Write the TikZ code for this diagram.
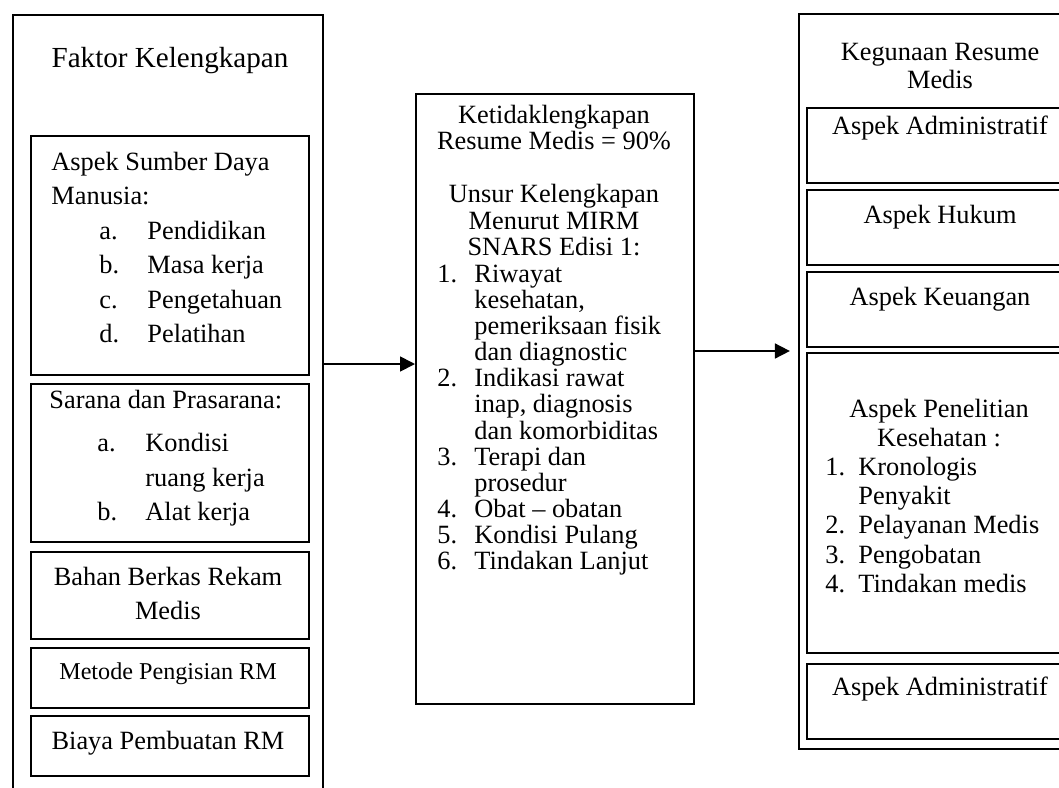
\documentclass[tikz,border=0pt]{standalone}
\usepackage{fontspec}
\setmainfont{Liberation Serif}
\usepackage{tikz}
\usetikzlibrary{arrows.meta}

\newcommand{\butir}[2]{\hspace*{0.768cm}\makebox[0.768cm][l]{#1}#2}
\newcommand{\nomor}[3][0.592cm]{\makebox[#1][l]{#2}#3}

\begin{document}
\begin{tikzpicture}[
    kotak/.style={draw, line width=0.7pt, rectangle, inner sep=0pt, anchor=north west},
    teks/.style={inner sep=0pt, font=\fontsize{12}{15.75}\selectfont},
    panah/.style={-{Triangle[length=0.24cm,width=0.24cm]}, line width=0.8pt}]
    \path[use as bounding box] (0,0) rectangle (16.944,-12.592);
    \clip (0,0) rectangle (16.944,-12.592);

    % faktor kelengkapan
    \node[kotak, minimum width=4.96cm, minimum height=12.9cm] 
         (faktor) at (0.192,-0.224) {};
    \node[kotak, minimum width=4.448cm, minimum height=3.824cm] 
         (sdm) at (0.48,-2.16) {};
    \node[kotak, minimum width=4.448cm, minimum height=2.528cm] 
         (sarana) at (0.48,-6.128) {};
    \node[kotak, minimum width=4.448cm, minimum height=1.392cm] 
         (bahan) at (0.48,-8.816) {};
    \node[kotak, minimum width=4.448cm, minimum height=0.96cm] 
         (metode) at (0.48,-10.352) {};
    \node[kotak, minimum width=4.448cm, minimum height=0.96cm] 
         (biaya) at (0.48,-11.44) {};

    \node[teks, font=\fontsize{13.25}{16}\selectfont, anchor=base] 
         (faktorjudul) at (2.72,-1.072) {Faktor Kelengkapan};
    \node[teks, anchor=base west] (sdmteks) at (0.816,-2.72) 
         {\begin{tabular}[t]{@{}l@{}}
          Aspek Sumber Daya\\ Manusia:\\
          \butir{a.}{Pendidikan}\\ \butir{b.}{Masa kerja}\\
          \butir{c.}{Pengetahuan}\\ \butir{d.}{Pelatihan}
          \end{tabular}};
    \node[teks, anchor=base west] (saranateks) at (0.784,-6.528) 
         {\begin{tabular}[t]{@{}l@{}}
          Sarana dan Prasarana:\\[4.1pt]
          \butir{a.}{Kondisi}\\ \butir{}{ruang kerja}\\ \butir{b.}{Alat kerja}
          \end{tabular}};
    \node[teks, anchor=base] (bahanteks) at (2.688,-9.36) 
         {\begin{tabular}[t]{@{}c@{}}Bahan Berkas Rekam\\ Medis\end{tabular}};
    \node[teks, font=\fontsize{11}{13}\selectfont, anchor=base] 
         (metodeteks) at (2.688,-10.864) {Metode Pengisian RM};
    \node[teks, anchor=base] (biayateks) at (2.688,-11.984) {Biaya Pembuatan RM};

    % ketidaklengkapan
    \node[kotak, minimum width=4.448cm, minimum height=9.76cm] 
         (hasil) at (6.64,-1.488) {};
    \node[teks, font=\fontsize{12}{12.1}\selectfont, anchor=base] 
         (hasiljudul) at (8.864,-1.968) 
         {\begin{tabular}[t]{@{}c@{}}
          Ketidaklengkapan\\ Resume Medis = 90\%\\ \\
          Unsur Kelengkapan\\ Menurut MIRM\\ SNARS Edisi 1:
          \end{tabular}};
    \node[teks, font=\fontsize{12}{11.9}\selectfont, anchor=base west] 
         (unsur) at (6.992,-4.512) 
         {\begin{tabular}[t]{@{}l@{}}
          \nomor{1.}{Riwayat}\\ \nomor{}{kesehatan,}\\
          \nomor{}{pemeriksaan fisik}\\ \nomor{}{dan diagnostic}\\
          \nomor{2.}{Indikasi rawat}\\ \nomor{}{inap, diagnosis}\\
          \nomor{}{dan komorbiditas}\\
          \nomor{3.}{Terapi dan}\\ \nomor{}{prosedur}\\
          \nomor{4.}{Obat -- obatan}\\ \nomor{5.}{Kondisi Pulang}\\
          \nomor{6.}{Tindakan Lanjut}
          \end{tabular}};

    % kegunaan resume medis
    \node[kotak, minimum width=4.96cm, minimum height=11.76cm] 
         (kegunaan) at (12.768,-0.208) {};
    \node[kotak, minimum width=4.448cm, minimum height=1.2cm] 
         (adm) at (12.896,-1.712) {};
    \node[kotak, minimum width=4.448cm, minimum height=1.2cm] 
         (hukum) at (12.896,-3.024) {};
    \node[kotak, minimum width=4.448cm, minimum height=1.2cm] 
         (uang) at (12.896,-4.336) {};
    \node[kotak, minimum width=4.448cm, minimum height=4.8cm] 
         (teliti) at (12.896,-5.632) {};
    \node[kotak, minimum width=4.448cm, minimum height=1.2cm] 
         (admdua) at (12.896,-10.608) {};

    \node[teks, font=\fontsize{12}{12.75}\selectfont, anchor=base] 
         (kegunaanjudul) at (15.04,-0.96) 
         {\begin{tabular}[t]{@{}c@{}}Kegunaan Resume\\ Medis\end{tabular}};
    \node[teks, anchor=base] (admteks) at (15.04,-2.144) {Aspek Administratif};
    \node[teks, anchor=base] (hukumteks) at (15.04,-3.568) {Aspek Hukum};
    \node[teks, anchor=base] (uangteks) at (15.04,-4.88) {Aspek Keuangan};
    \node[teks, font=\fontsize{12}{13.65}\selectfont, anchor=base] 
         (telitijudul) at (15.024,-6.672) 
         {\begin{tabular}[t]{@{}c@{}}Aspek Penelitian\\ Kesehatan :\end{tabular}};
    \node[teks, font=\fontsize{12}{13.4}\selectfont, anchor=base west] 
         (telititeks) at (13.2,-7.6) 
         {\begin{tabular}[t]{@{}l@{}}
          \nomor[0.528cm]{1.}{Kronologis}\\ \nomor[0.528cm]{}{Penyakit}\\
          \nomor[0.528cm]{2.}{Pelayanan Medis}\\
          \nomor[0.528cm]{3.}{Pengobatan}\\
          \nomor[0.528cm]{4.}{Tindakan medis}
          \end{tabular}};
    \node[teks, anchor=base] (admduateks) at (15.04,-11.12) {Aspek Administratif};

    %edges
    \coordinate (p1) at (0,-5.824);
    \coordinate (p2) at (0,-5.616);
    \draw[panah] (faktor.east |- p1) -- (hasil.west |- p1);
    \draw[panah, shorten >=0.13cm] (hasil.east |- p2) -- (kegunaan.west |- p2);
\end{tikzpicture}
\end{document}
